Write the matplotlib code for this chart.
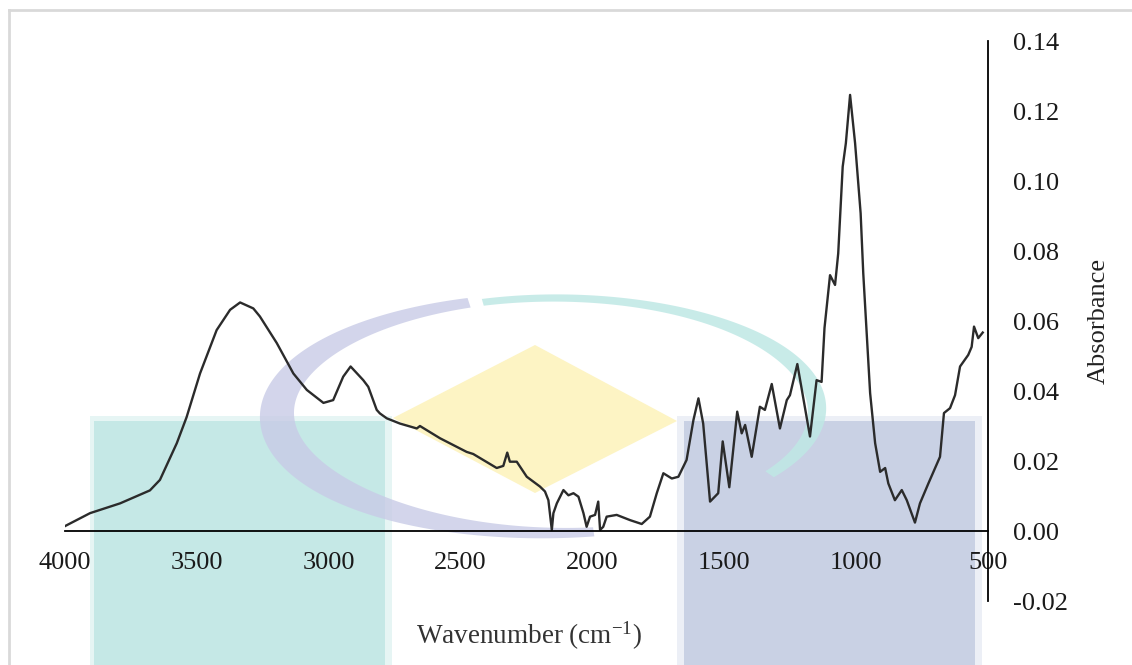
import numpy as np
import matplotlib
matplotlib.use("Agg")
import matplotlib.pyplot as plt
from matplotlib.patches import Rectangle, Polygon

plt.rcParams['font.family'] = ['Liberation Serif', 'DejaVu Serif']
plt.rcParams['mathtext.fontset'] = 'custom'
plt.rcParams['mathtext.rm'] = 'Liberation Serif'
plt.rcParams['axes.unicode_minus'] = False

# FTIR spectrum
wavenumber = [4000, 3905, 3791, 3678, 3640, 3576, 3539, 3488, 3425, 3374,
              3336, 3286, 3261, 3197, 3134, 3083, 3020, 2983, 2945, 2917,
              2869, 2850, 2818, 2806, 2780, 2730, 2666, 2654, 2578, 2477,
              2452, 2363, 2338, 2323, 2313, 2287, 2249, 2199, 2180, 2167,
              2154, 2148, 2135, 2110, 2091, 2072, 2053, 2034, 2022, 2009,
              1990, 1978, 1971, 1959, 1946, 1908, 1857, 1813, 1782, 1756,
              1731, 1699, 1674, 1643, 1617, 1598, 1580, 1554, 1523, 1506,
              1481, 1451, 1434, 1421, 1396, 1365, 1346, 1320, 1289, 1263,
              1251, 1223, 1175, 1150, 1131, 1120, 1099, 1080, 1068, 1051,
              1039, 1023, 1004, 983, 973, 947, 928, 909, 890, 878,
              853, 827, 808, 777, 758, 726, 682, 667, 644, 625,
              606, 575, 562, 553, 537, 520]
absorbance = [0.0014, 0.0051, 0.0079, 0.0116, 0.0146, 0.0251, 0.0325, 0.0450, 0.0574, 0.0632,
              0.0653, 0.0636, 0.0613, 0.0537, 0.0450, 0.0403, 0.0366, 0.0374, 0.0441, 0.0470,
              0.0431, 0.0412, 0.0346, 0.0336, 0.0322, 0.0307, 0.0293, 0.0300, 0.0265, 0.0226,
              0.0220, 0.0180, 0.0186, 0.0224, 0.0198, 0.0198, 0.0155, 0.0127, 0.0113, 0.0088,
              0.0003, 0.0051, 0.0079, 0.0117, 0.0102, 0.0108, 0.0098, 0.0051, 0.0012, 0.0041,
              0.0046, 0.0084, 0.0003, 0.0012, 0.0041, 0.0046, 0.0031, 0.0020, 0.0041, 0.0108,
              0.0165, 0.0150, 0.0155, 0.0203, 0.0317, 0.0379, 0.0307, 0.0084, 0.0108, 0.0256,
              0.0125, 0.0341, 0.0279, 0.0303, 0.0212, 0.0355, 0.0346, 0.0420, 0.0293, 0.0374,
              0.0388, 0.0477, 0.0270, 0.0431, 0.0426, 0.0580, 0.0731, 0.0703, 0.0793, 0.1041,
              0.1108, 0.1246, 0.1108, 0.0908, 0.0736, 0.0394, 0.0251, 0.0169, 0.0180, 0.0136,
              0.0088, 0.0117, 0.0088, 0.0024, 0.0079, 0.0136, 0.0212, 0.0337, 0.0351, 0.0388,
              0.0470, 0.0503, 0.0526, 0.0584, 0.0551, 0.0567]

xticks = [4000, 3500, 3000, 2500, 2000, 1500, 1000, 500]
yticks = [-0.02, 0.00, 0.02, 0.04, 0.06, 0.08, 0.10, 0.12, 0.14]

W, H = 1132, 665
fig = plt.figure(figsize=(W / 100, H / 100), dpi=100)

# background watermark, drawn in pixel space
bg = fig.add_axes([0, 0, 1, 1], zorder=0)
bg.set_xlim(0, W)
bg.set_ylim(H, 0)
bg.axis('off')


def band(cx, cy, a, b, t0, t1, thick):
    th = np.radians(np.linspace(t0, t1, 240))
    t = thick(np.degrees(th))
    ox = cx + (a + t / 2) * np.cos(th)
    oy = cy - (b + t / 2) * np.sin(th)
    ix = cx + (a - t / 2) * np.cos(th)
    iy = cy - (b - t / 2) * np.sin(th)
    return np.column_stack([np.r_[ox, ix[::-1]], np.r_[oy, iy[::-1]]])


bg.add_patch(Rectangle((90, 416), 302, 260, color='#e6f5f4', lw=0))
bg.add_patch(Rectangle((94, 421), 291, 260, color='#c5e8e6', lw=0))
bg.add_patch(Rectangle((677, 416), 305, 260, color='#eceff6', lw=0))
bg.add_patch(Rectangle((684, 421), 291, 260, color='#c9d1e4', lw=0))
bg.add_patch(Polygon([(393, 418), (535, 345), (677, 421), (535, 493)],
                     closed=True, color='#fdf4c4', lw=0))
bg.add_patch(Polygon(band(555, 415, 278, 118, 108, 278,
                          lambda d: 7 + 28 * np.exp(-((d - 190) / 55) ** 2)),
                     closed=True, color='#c8cbe6', lw=0, alpha=0.8))
bg.add_patch(Polygon(band(555, 410, 262, 112, -35, 106,
                          lambda d: 7 + 12 * np.exp(-((d - 10) / 40) ** 2)),
                     closed=True, color='#bfe8e5', lw=0, alpha=0.85))
bg.plot([9, 9], [10, H], color='#d9d9d9', lw=2)
bg.plot([9, W], [10, 10], color='#d9d9d9', lw=2)

# main chart
ax = fig.add_axes([65 / W, 1 - 601 / H, 923 / W, 560 / H], zorder=1)
ax.patch.set_visible(False)
ax.plot(wavenumber, absorbance, color='#2b2b2b', lw=1.7)

ax.set_xlim(4000, 500)
ax.set_ylim(-0.02, 0.14)
ax.spines['left'].set_visible(False)
ax.spines['top'].set_visible(False)
ax.spines['bottom'].set_position(('data', 0))
ax.spines['bottom'].set_linewidth(1.3)
ax.spines['right'].set_linewidth(1.3)

ax.set_xticks(xticks)
ax.set_xticklabels([str(x) for x in xticks])
ax.set_yticks(yticks)
ax.set_yticklabels(['%.2f' % y for y in yticks])
ax.yaxis.tick_right()
ax.yaxis.set_label_position('right')
ax.tick_params(axis='both', length=0, labelsize=19, colors='#1a1a1a')
ax.tick_params(axis='x', pad=15)
ax.tick_params(axis='y', pad=18)

ax.set_ylabel('Absorbance', fontsize=19, color='#222222', labelpad=14)
fig.text(529 / W, 1 - 636 / H, 'Wavenumber (cm$\\mathregular{^{-1}}$)',
         ha='center', va='center', fontsize=19.5, color='#333333')

fig.savefig('out.png', dpi=100)
